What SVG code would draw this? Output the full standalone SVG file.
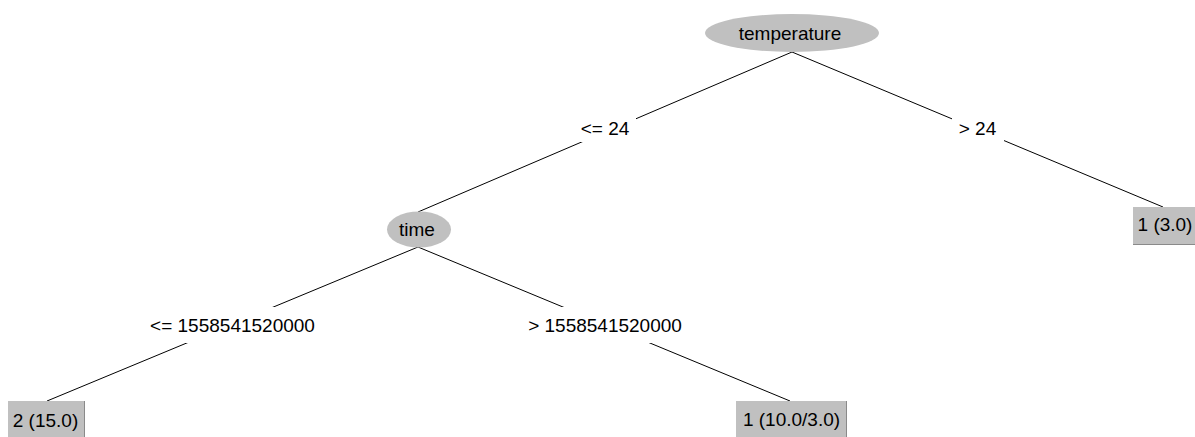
<svg xmlns="http://www.w3.org/2000/svg" width="1195" height="437" viewBox="0 0 1195 437">
<style>
text{font-family:"Liberation Sans",Arial,sans-serif;font-size:19px;fill:#000;text-anchor:middle}
.node{fill:#c0c0c0;stroke:none}
.leaf{fill:#c0c0c0;stroke:none}
.edge3d{stroke:#8a8a8a;stroke-width:1;fill:none}
.conn{stroke:#000;stroke-width:1;fill:none}
.lbg{fill:#fff}
</style>
<rect width="1195" height="437" fill="#fff"/>
<g id="connectors">
<line class="conn" x1="792" y1="52" x2="418" y2="212"/>
<line class="conn" x1="792" y1="52" x2="1163" y2="207"/>
<line class="conn" x1="418" y1="247" x2="47" y2="401"/>
<line class="conn" x1="418" y1="247" x2="790" y2="401"/>
<rect class="lbg" x="574" y="116" width="62" height="26"/>
<text x="605" y="134.5">&lt;= 24</text>
<rect class="lbg" x="952" y="117" width="52" height="24"/>
<text x="977.5" y="134.5">&gt; 24</text>
<rect class="lbg" x="143" y="307" width="179" height="36"/>
<text x="232.5" y="332">&lt;= 1558541520000</text>
<rect class="lbg" x="522" y="307" width="166" height="36"/>
<text x="605" y="332">&gt; 1558541520000</text>
</g>
<g id="n-temperature">
<ellipse class="node" cx="792" cy="33" rx="87" ry="19"/>
<text x="790" y="39.5">temperature</text>
</g>
<g id="n-time">
<ellipse class="node" cx="419" cy="229.5" rx="32" ry="18"/>
<text x="417" y="236">time</text>
</g>
<g id="leaf-right">
<rect class="leaf" x="1133" y="207" width="63" height="38"/>
<line class="edge3d" x1="1133" y1="244.5" x2="1196" y2="244.5"/>
<text x="1165" y="230.5">1 (3.0)</text>
</g>
<g id="leaf-left">
<rect class="leaf" x="8" y="401" width="77" height="38"/>
<line class="edge3d" x1="84.5" y1="401" x2="84.5" y2="439"/>
<text x="45.5" y="427">2 (15.0)</text>
</g>
<g id="leaf-mid">
<rect class="leaf" x="736" y="401" width="111" height="38"/>
<line class="edge3d" x1="846.5" y1="401" x2="846.5" y2="439"/>
<text x="791.5" y="426">1 (10.0/3.0)</text>
</g>
</svg>
